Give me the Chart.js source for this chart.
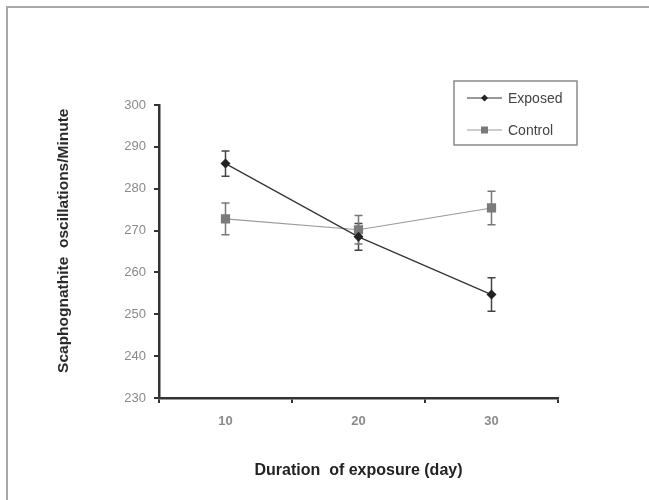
<html>
<head>
	<title>Scaphognathite oscillations</title>
	<script src="https://cdn.jsdelivr.net/npm/chart.js@4.4.0/dist/chart.umd.min.js"></script>
	<style>
		body {
			margin: 0;
			background: #fff;
		}
		#frame {
			position: absolute;
			left: 6px;
			top: 6px;
			width: 660px;
			height: 520px;
			border: 2px solid #a8a8a8;
		}
		#wrap {
			position: absolute;
			left: 0;
			top: 0;
			width: 649px;
			height: 500px;
		}
	</style>
</head>
<body>
	<div id="frame"></div>
	<div id="wrap"><canvas id="canvas" width="649" height="500"></canvas></div>
	<script>
		const days = ['10', '20', '30'];
		const exposed = [286, 268.5, 254.7];
		const exposedErr = [3, 3.2, 4];
		const control = [272.8, 270.2, 275.4];
		const controlErr = [3.8, 3.4, 4];
		const yTicks = [230, 240, 250, 260, 270, 280, 290, 300];

		const font = "'Liberation Sans Narrow', 'Liberation Sans', Arial, sans-serif";

		// error bars, drawn from the y scale so they line up with the points
		const errorBars = {
			id: 'errorBars',
			beforeDatasetsDraw(chart) {
				const ctx = chart.ctx;
				const y = chart.scales.y;
				chart.data.datasets.forEach((ds, i) => {
					const meta = chart.getDatasetMeta(i);
					ctx.save();
					ctx.strokeStyle = ds.errColor;
					ctx.lineWidth = 1.5;
					meta.data.forEach((pt, j) => {
						const top = y.getPixelForValue(ds.data[j] + ds.err[j]);
						const bot = y.getPixelForValue(ds.data[j] - ds.err[j]);
						ctx.beginPath();
						ctx.moveTo(pt.x, top);
						ctx.lineTo(pt.x, bot);
						ctx.moveTo(pt.x - 4, top);
						ctx.lineTo(pt.x + 4, top);
						ctx.moveTo(pt.x - 4, bot);
						ctx.lineTo(pt.x + 4, bot);
						ctx.stroke();
					});
					ctx.restore();
				});
			}
		};

		// boxed legend sitting inside the plot, like the original
		const boxLegend = {
			id: 'boxLegend',
			afterDraw(chart) {
				const ctx = chart.ctx;
				ctx.save();
				ctx.strokeStyle = '#8a8a8a';
				ctx.lineWidth = 1.5;
				ctx.strokeRect(454, 81, 123, 64);
				chart.data.datasets.forEach((ds, i) => {
					const ly = 98 + i * 32;
					ctx.strokeStyle = ds.borderColor;
					ctx.lineWidth = 1;
					ctx.beginPath();
					ctx.moveTo(467, ly);
					ctx.lineTo(502, ly);
					ctx.stroke();
					ctx.fillStyle = ds.pointBackgroundColor;
					ctx.beginPath();
					if (i === 0) {
						ctx.moveTo(484.5, ly - 3.5);
						ctx.lineTo(488, ly);
						ctx.lineTo(484.5, ly + 3.5);
						ctx.lineTo(481, ly);
					} else {
						ctx.rect(481, ly - 3.5, 7, 7);
					}
					ctx.fill();
					ctx.fillStyle = '#444';
					ctx.font = '14px ' + font;
					ctx.textBaseline = 'middle';
					ctx.fillText(ds.label, 508, ly + 1);
				});
				ctx.restore();
			}
		};

		new Chart(document.getElementById('canvas'), {
			type: 'line',
			data: {
				labels: days,
				datasets: [
					{
						label: 'Exposed',
						data: exposed,
						err: exposedErr,
						errColor: '#444',
						borderColor: '#333',
						borderWidth: 1.2,
						pointStyle: 'rectRot',
						pointRadius: 5,
						pointBackgroundColor: '#222',
						pointBorderColor: '#222',
						pointBorderWidth: 0,
					},
					{
						label: 'Control',
						data: control,
						err: controlErr,
						errColor: '#777',
						borderColor: '#999',
						borderWidth: 1.2,
						pointStyle: 'rect',
						pointRadius: 6.5,
						pointBackgroundColor: '#7a7a7a',
						pointBorderColor: '#7a7a7a',
						pointBorderWidth: 0,
					},
				],
			},
			options: {
				responsive: false,
				animation: false,
				layout: {
					padding: { left: 0, top: 105, right: 91, bottom: 0 },
				},
				plugins: {
					legend: { display: false },
					tooltip: { enabled: false },
				},
				scales: {
					x: {
						offset: true,
						afterFit: (scale) => { scale.height = 102; },
						grid: {
							offset: true,
							drawOnChartArea: false,
							drawTicks: true,
							tickLength: 5,
							color: '#333',
							lineWidth: 2,
						},
						border: { display: true, color: '#333', width: 2.5 },
						ticks: {
							color: '#8a8a8a',
							padding: 11,
							font: { family: font, size: 13, weight: 'bold' },
						},
						title: {
							display: true,
							text: 'Duration  of exposure (day)',
							color: '#222',
							padding: { top: 0, bottom: 19.5 },
							font: { family: font, size: 16, weight: 'bold' },
						},
					},
					y: {
						min: 230,
						max: 300,
						afterFit: (scale) => { scale.width = 159; },
						afterBuildTicks: (scale) => {
							scale.ticks = yTicks.map((v) => ({ value: v }));
						},
						grid: {
							drawOnChartArea: false,
							drawTicks: true,
							tickLength: 5,
							color: '#333',
							lineWidth: 2,
						},
						border: { display: true, color: '#333', width: 2.5 },
						ticks: {
							color: '#8a8a8a',
							padding: 8,
							font: { family: font, size: 13 },
						},
						title: {
							display: true,
							text: '     Scaphognathite  oscillations/Minute',
							color: '#2a2a2a',
							padding: { top: 54, bottom: 0 },
							font: { family: font, size: 15.5, weight: 'bold' },
						},
					},
				},
			},
			plugins: [errorBars, boxLegend],
		});
	</script>
</body>
</html>
